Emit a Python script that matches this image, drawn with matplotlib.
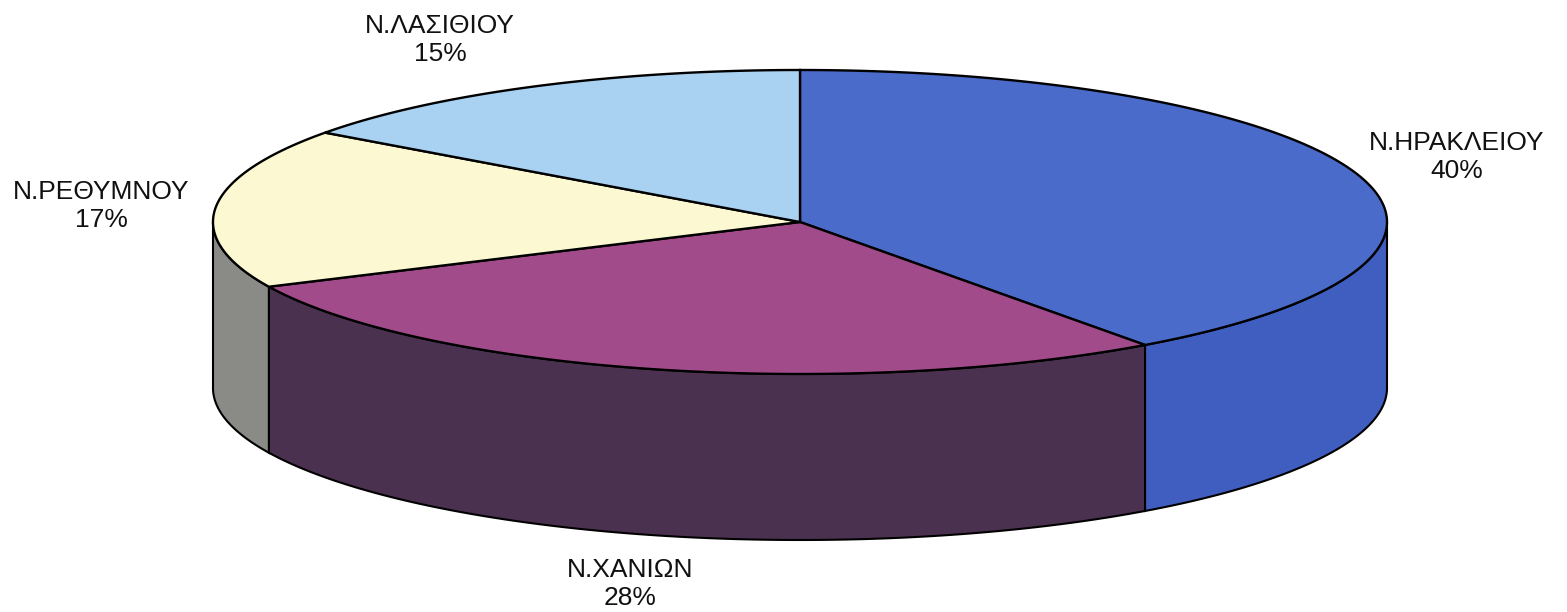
import numpy as np
import matplotlib.pyplot as plt
from matplotlib.patches import Polygon

# shares of each prefecture (clockwise from 12 o'clock)
regions = ["Ν.ΗΡΑΚΛΕΙΟΥ", "Ν.ΧΑΝΙΩΝ", "Ν.ΡΕΘΥΜΝΟΥ", "Ν.ΛΑΣΙΘΙΟΥ"]
shares = [40, 28, 17, 15]
top_colors = ["#4a6bc9", "#a14b8a", "#fbf8d2", "#a9d2f2"]
side_colors = ["#3f5ec0", "#4b3150", "#8a8a86", "#7fa8cc"]

# label anchor points in pixels
label_xy = [(1457, 157), (630, 584), (101, 206), (440, 40)]

W, H = 1567, 612
cx, cy = 800, 222      # centre of top face
rx, ry = 587, 152      # ellipse radii
depth = 166

plt.rcParams['font.family'] = ['Liberation Sans', 'DejaVu Sans']
fig = plt.figure(figsize=(W / 100, H / 100), dpi=100)
ax = fig.add_axes([0, 0, 1, 1])
ax.set_xlim(0, W)
ax.set_ylim(H, 0)
ax.axis('off')


def pt(theta, dy=0):
    return cx + rx * np.cos(theta), cy - ry * np.sin(theta) + dy


fracs = np.array(shares) / np.sum(shares)
starts = np.pi / 2 - 2 * np.pi * np.concatenate([[0], np.cumsum(fracs)[:-1]])
ends = starts - 2 * np.pi * fracs

# side walls (only the front half, sin < 0, is visible)
for s, e, col in zip(starts, ends, side_colors):
    lo, hi = min(s, e), max(s, e)
    for shift in (0, 2 * np.pi, -2 * np.pi):
        a0 = max(lo + shift, -np.pi)
        a1 = min(hi + shift, 0)
        if a1 > a0:
            t = np.linspace(a0, a1, 100)
            xs, ys = pt(t)
            xb, yb = pt(t[::-1], depth)
            poly = np.column_stack([np.concatenate([xs, xb]), np.concatenate([ys, yb])])
            ax.add_patch(Polygon(poly, closed=True, facecolor=col,
                                 edgecolor='black', lw=1.5, zorder=1))

# top face wedges
for s, e, col in zip(starts, ends, top_colors):
    t = np.linspace(s, e, 200)
    xs, ys = pt(t)
    poly = np.column_stack([np.concatenate([[cx], xs]), np.concatenate([[cy], ys])])
    ax.add_patch(Polygon(poly, closed=True, facecolor=col,
                         edgecolor='black', lw=1.7, zorder=2))

for name, val, (x, y) in zip(regions, shares, label_xy):
    ax.text(x, y, f"{name}\n{val}%", ha='center', va='center',
            fontsize=19, linespacing=1.25, color='#111111')

fig.savefig("out.png", dpi=100, facecolor='white')
